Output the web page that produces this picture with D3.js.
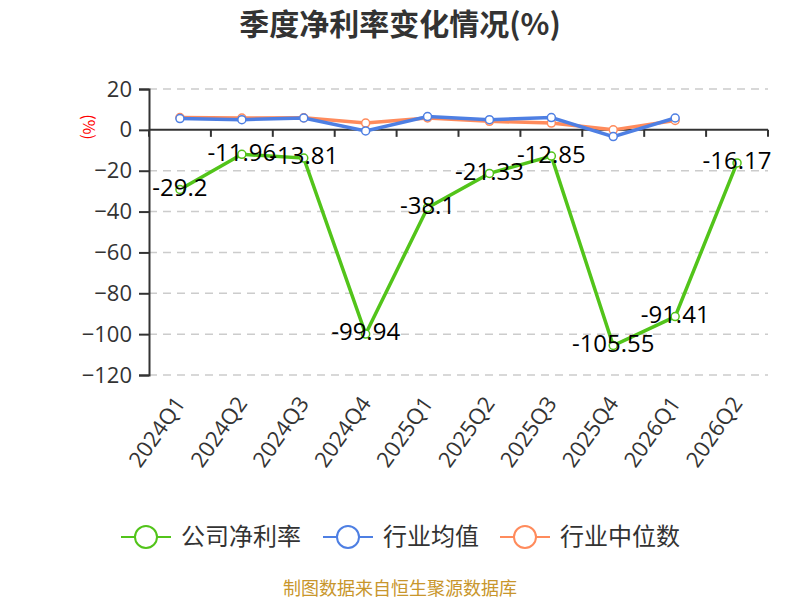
<!DOCTYPE html>
<html>
<head>
<meta charset="utf-8">
<title>季度净利率变化情况</title>
<script src="https://cdn.jsdelivr.net/npm/d3@7"></script>
<style>
  body { margin: 0; background: #fff; }
  text { font-family: "Noto Sans CJK SC", "Open Sans", sans-serif; }
</style>
</head>
<body>
<script>
// data
const quarters = ['2024Q1','2024Q2','2024Q3','2024Q4','2025Q1','2025Q2','2025Q3','2025Q4','2026Q1','2026Q2'];
const companyRate = [-29.2, -11.96, -13.81, -99.94, -38.1, -21.33, -12.85, -105.55, -91.41, -16.17];
const industryMean = [5.5, 5.0, 5.8, -0.5, 6.5, 5.0, 6.0, -3.3, 5.8, null];
const industryMedian = [6.0, 5.8, 5.9, 3.3, 5.8, 4.2, 3.3, 0.0, 4.6, null];
const yTicks = [20, 0, -20, -40, -60, -80, -100, -120];

const series = [
  { name: '公司净利率', values: companyRate, color: '#52c41a' },
  { name: '行业均值', values: industryMean, color: '#4e7fe3' },
  { name: '行业中位数', values: industryMedian, color: '#ff8b5c' }
];

let width = 800, height = 600,
    plotLeft = 149, plotRight = 768, plotTop = 89, plotBottom = 375

let svg = d3.select('body').append('svg')
    .attr('width', width)
    .attr('height', height)

let x = d3.scaleBand().domain(quarters).range([plotLeft, plotRight])
let y = d3.scaleLinear().domain([-120, 20]).range([plotBottom, plotTop])

// title
svg.append('text')
    .attr('x', 400).attr('y', 35)
    .attr('text-anchor', 'middle')
    .style('font-size', '30px').style('font-weight', 'bold')
    .attr('fill', '#333')
    .text('季度净利率变化情况(%)')

// grid
svg.append('g').selectAll('line')
    .data(yTicks.filter(d => d !== 0))
    .join('line')
    .attr('x1', plotLeft).attr('x2', plotRight)
    .attr('y1', d => y(d)).attr('y2', d => y(d))
    .attr('stroke', '#ccc').attr('stroke-width', 1.5)
    .attr('stroke-dasharray', '8,6')

// y axis
let yAxis = svg.append('g')
    .attr('transform', 'translate(' + plotLeft + ',0)')
    .call(d3.axisLeft(y).tickValues(yTicks).tickSize(10).tickPadding(7))
yAxis.select('.domain').attr('stroke', '#333').attr('stroke-width', 2)
yAxis.selectAll('.tick line').attr('stroke', '#333').attr('stroke-width', 2)
yAxis.selectAll('.tick text')
    .attr('fill', '#333').style('font-size', '22px')
    .style('font-family', '"Open Sans", sans-serif')

svg.append('text')
    .attr('transform', 'translate(83,127) rotate(90)')
    .attr('text-anchor', 'middle')
    .attr('fill', 'red').style('font-size', '16px')
    .text('(%)')

// x axis on zero line
let xAxis = svg.append('g')
    .attr('transform', 'translate(0,' + y(0) + ')')
xAxis.append('line')
    .attr('x1', plotLeft).attr('x2', plotRight)
    .attr('stroke', '#333').attr('stroke-width', 2)
xAxis.selectAll('line.tk')
    .data(quarters.concat(['end']))
    .join('line')
    .attr('class', 'tk')
    .attr('x1', (d, i) => plotLeft + i * x.bandwidth())
    .attr('x2', (d, i) => plotLeft + i * x.bandwidth())
    .attr('y1', 0).attr('y2', 7)
    .attr('stroke', '#333').attr('stroke-width', 2)

// x labels below plot
svg.append('g').selectAll('text')
    .data(quarters)
    .join('text')
    .attr('transform', d => 'translate(' + (x(d) + x.bandwidth() / 2) + ',' + (plotBottom + 24) + ') rotate(-55)')
    .attr('text-anchor', 'end')
    .attr('dy', '0.35em')
    .attr('fill', '#333')
    .style('font-size', '22px')
    .style('font-family', '"Open Sans", sans-serif')
    .text(d => d)

// lines, reversed so the company line sits on top
let cx = (d, i) => x(quarters[i]) + x.bandwidth() / 2
series.slice().reverse().forEach(s => {
  let line = d3.line()
      .defined(d => d !== null)
      .x(cx)
      .y(d => y(d))
  svg.append('path')
      .datum(s.values)
      .attr('d', line)
      .attr('fill', 'none')
      .attr('stroke', s.color)
      .attr('stroke-width', 3.5)
  svg.append('g').selectAll('circle')
      .data(s.values.map((v, i) => ({ v, i })).filter(d => d.v !== null))
      .join('circle')
      .attr('cx', d => cx(d.v, d.i))
      .attr('cy', d => y(d.v))
      .attr('r', 4)
      .attr('fill', '#fff')
      .attr('stroke', s.color)
      .attr('stroke-width', 1.5)
})

// value labels for company
svg.append('g').selectAll('text')
    .data(companyRate)
    .join('text')
    .attr('x', cx)
    .attr('y', d => y(d) - 2)
    .attr('text-anchor', 'middle')
    .attr('dy', '0.35em')
    .attr('fill', '#000')
    .style('font-size', '24px')
    .style('font-family', '"Open Sans", sans-serif')
    .text(d => d)

// legend
let legendX = [121, 323, 500]
let legend = svg.append('g').selectAll('g')
    .data(series)
    .join('g')
    .attr('transform', (d, i) => 'translate(' + legendX[i] + ',537)')
legend.append('line')
    .attr('x1', 0).attr('x2', 50)
    .attr('stroke', d => d.color).attr('stroke-width', 2)
legend.append('circle')
    .attr('cx', 25).attr('r', 11)
    .attr('fill', '#fff')
    .attr('stroke', d => d.color).attr('stroke-width', 2)
legend.append('text')
    .attr('x', 60).attr('dy', '0.35em')
    .attr('fill', '#333')
    .style('font-size', '24px')
    .text(d => d.name)

// source note
svg.append('text')
    .attr('x', 400).attr('y', 595)
    .attr('text-anchor', 'middle')
    .attr('fill', '#c8962c')
    .style('font-size', '18px')
    .text('制图数据来自恒生聚源数据库')
</script>
</body>
</html>
